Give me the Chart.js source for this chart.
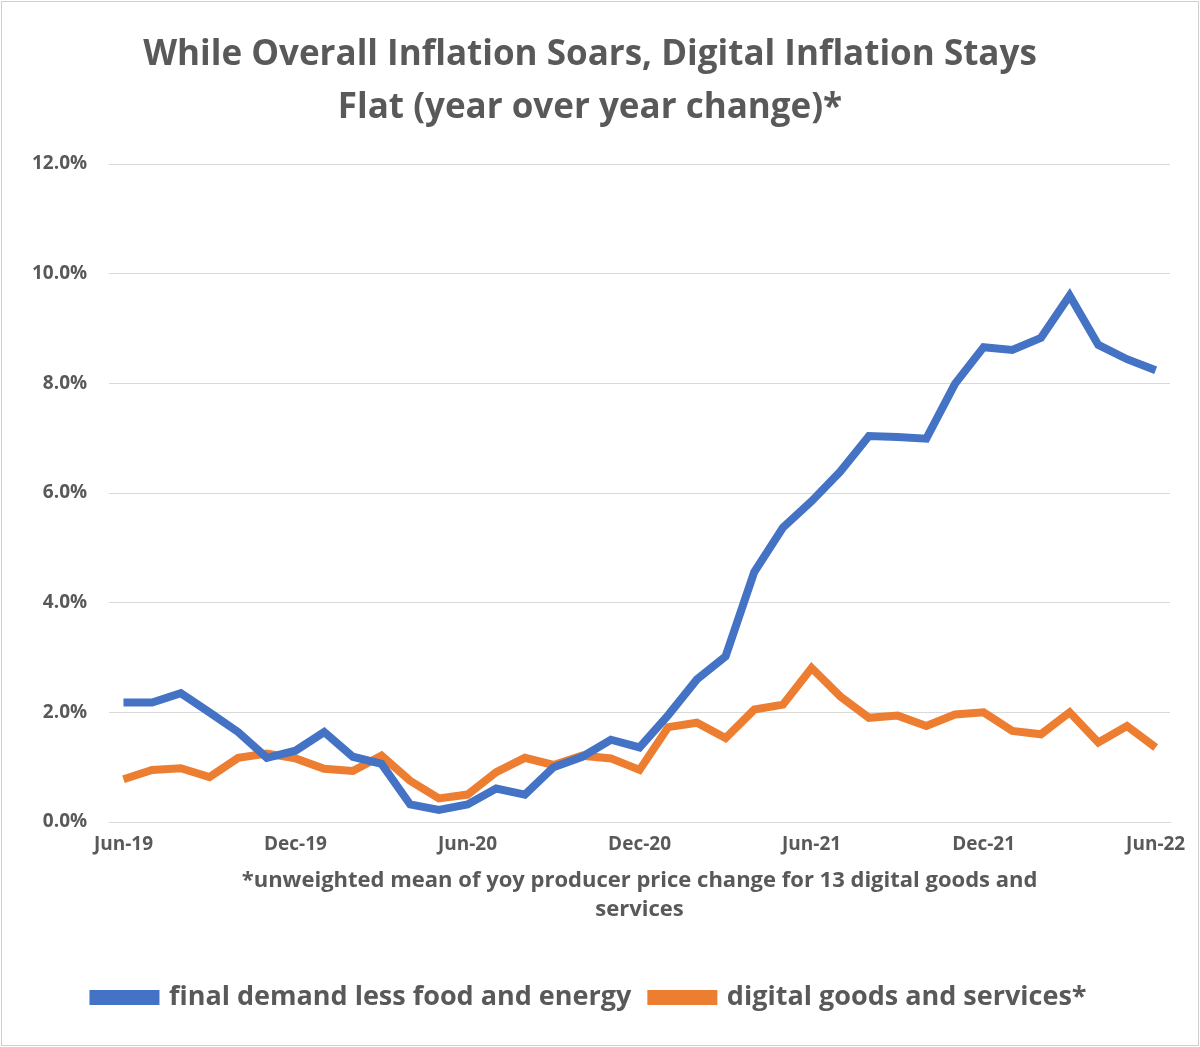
<!DOCTYPE html>
<html>
<head>
<meta charset="utf-8">
<script src="https://cdn.jsdelivr.net/npm/chart.js@4"></script>
<style>
  html, body { margin: 0; padding: 0; background: #fff; }
  #wrap { position: absolute; left: 1px; top: 1px; width: 1196px; height: 1043px; border: 1px solid #d0d0d0; }
</style>
</head>
<body>
<div id="wrap"><canvas id="myChart"></canvas></div>
<script>
const months = ['Jun','Jul','Aug','Sep','Oct','Nov','Dec','Jan','Feb','Mar','Apr','May'];
const labels = [];
for (let i = 0; i <= 36; i++) {
  const m = months[i % 12];
  const yr = 19 + Math.floor((i + 5) / 12);
  labels.push(m + '-' + yr);
}

const finalDemand = [2.18, 2.18, 2.35, 2.0, 1.64, 1.17, 1.3, 1.64, 1.19, 1.06, 0.32, 0.22,
  0.32, 0.61, 0.5, 1.0, 1.19, 1.5, 1.36, 1.95, 2.6, 3.02, 4.56, 5.37,
  5.85, 6.39, 7.04, 7.02, 6.99, 7.99, 8.66, 8.61, 8.83, 9.6, 8.7, 8.44, 8.24];
const digital = [0.78, 0.95, 0.98, 0.82, 1.17, 1.25, 1.16, 0.97, 0.93, 1.21, 0.75, 0.43,
  0.5, 0.91, 1.17, 1.04, 1.21, 1.16, 0.95, 1.73, 1.81, 1.53, 2.05, 2.14,
  2.81, 2.29, 1.9, 1.94, 1.75, 1.96, 2.0, 1.66, 1.6, 2.0, 1.45, 1.75, 1.36];

const grey = '#595959';
const font = 'Open Sans, Lato, sans-serif';

const ctx = document.getElementById('myChart').getContext('2d');
new Chart(ctx, {
  type: 'line',
  data: {
    labels: labels,
    datasets: [
      { label: 'final demand less food and energy', data: finalDemand,
        borderColor: '#4472c4', backgroundColor: '#4472c4', borderWidth: 8,
        pointRadius: 0, tension: 0 },
      { label: 'digital goods and services*', data: digital,
        borderColor: '#ed7d31', backgroundColor: '#ed7d31', borderWidth: 8,
        pointRadius: 0, tension: 0 },
    ],
  },
  options: {
    responsive: true,
    maintainAspectRatio: false,
    animation: false,
    layout: { padding: { left: 8, right: 28, top: 15, bottom: 24 } },
    plugins: {
      title: {
        display: true,
        text: ['While Overall Inflation Soars, Digital Inflation Stays', 'Flat (year over year change)*'],
        color: grey,
        font: { family: font, size: 35, weight: 'bold', lineHeight: 1.5 },
        padding: { top: 12, bottom: 30 },
      },
      legend: {
        position: 'bottom',
        labels: {
          color: grey, boxWidth: 62, boxHeight: 7, padding: 20,
          font: { family: font, size: 27, weight: 'bold' },
        },
      },
      tooltip: { enabled: false },
    },
    scales: {
      x: {
        offset: true,
        grid: { display: false },
        border: { color: '#d9d9d9' },
        ticks: {
          autoSkip: false, maxRotation: 0, color: grey,
          font: { family: font, size: 19, weight: 'bold' },
          callback: function (v, i) { return i % 6 === 0 ? labels[i] : null; },
        },
        title: {
          display: true,
          text: ['*unweighted mean of yoy producer price change for 13 digital goods and', 'services'],
          color: grey,
          font: { family: font, size: 22, weight: 'bold', lineHeight: 1.3 },
          padding: { top: 8, bottom: 40 },
        },
      },
      y: {
        min: 0, max: 12,
        grid: { color: '#d9d9d9', drawTicks: false },
        border: { display: false },
        ticks: {
          stepSize: 2, padding: 22, color: grey,
          font: { family: font, size: 19, weight: 'bold' },
          callback: function (v) { return v.toFixed(1) + '%'; },
        },
      },
    },
  },
});
</script>
</body>
</html>
